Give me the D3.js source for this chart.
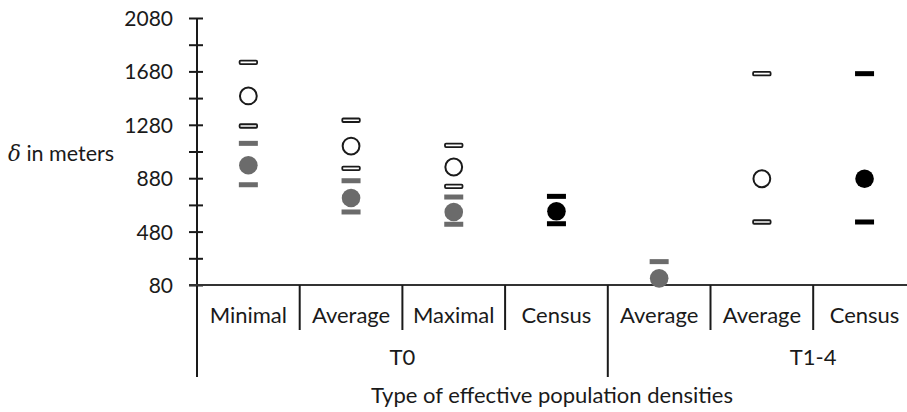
<!DOCTYPE html>
<html>
<head>
<meta charset="utf-8">
<script src="https://cdn.jsdelivr.net/npm/d3@7"></script>
<style>
  html, body { margin: 0; padding: 0; background: #fff; }
  svg { display: block; }
  text { font-family: Lato, "Open Sans", sans-serif; fill: #1a1a1a; }
</style>
</head>
<body>
<svg id="chart" width="907" height="412"></svg>
<script>
// ---- data ----
const categories = ["Minimal", "Average", "Maximal", "Census", "Average", "Average", "Census", ""];
const groups     = ["T0", "T0", "T0", "T0", "T1-4", "T1-4", "T1-4", "T1-4"];

// open markers (white circle, outlined bounds)
const openMean  = [1496, 1121, 964, null, null, 876, null, null];
const openUpper = [1748, 1314, 1126, null, null, 1663, null, null];
const openLower = [1271, 954, 819, null, null, 552, null, null];

// grey markers
const greyMean  = [977, 732, 627, null, 130, null, null, null];
const greyUpper = [1141, 861, 739, null, 255, null, null, null];
const greyLower = [831, 627, 535, null, null, null, null, null];

// census markers (black)
const censusMean  = [null, null, null, 632, null, null, 876, null];
const censusUpper = [null, null, null, 744, null, null, 1663, null];
const censusLower = [null, null, null, 539, null, null, 552, null];

const yTicks      = [80, 280, 480, 680, 880, 1080, 1280, 1480, 1680, 1880, 2080];
const yTickLabels = [80, 480, 880, 1280, 1680, 2080];

const yTitle = "in meters";
const xTitle = "Type of effective population densities";

(function () {
// ---- layout ----
const svg = d3.select("#chart");
const mLeft = 197, mBottom = 285, mTop = 18;
const bandW = 102.7;

const x = d3.scaleBand()
  .domain(d3.range(categories.length))
  .range([mLeft, mLeft + bandW * categories.length])
  .paddingInner(0).paddingOuter(0);

const y = d3.scaleLinear().domain([80, 2080]).range([mBottom, mTop]);

const ink = "#1a1a1a";
const grey = "#6b6b6b";

// ---- y axis ----
const yAxis = d3.axisLeft(y)
  .tickValues(yTicks)
  .tickSize(8)
  .tickFormat(d => yTickLabels.includes(d) ? d : "");
const yg = svg.append("g").attr("transform", `translate(${mLeft},0)`).call(yAxis);
yg.select(".domain").remove();
yg.selectAll(".tick line").attr("x1", 6).attr("x2", -8).attr("stroke", ink).attr("stroke-width", 2);
yg.selectAll(".tick text")
  .attr("x", -24).attr("dy", "0.36em")
  .style("font-size", "21px").style("font-family", "Lato, sans-serif").attr("fill", ink);
svg.append("line")
  .attr("x1", mLeft).attr("x2", mLeft).attr("y1", y(2080)).attr("y2", 377)
  .attr("stroke", ink).attr("stroke-width", 2);

// y title
const yt = svg.append("text").attr("x", 8).attr("y", 161).style("font-size", "21.5px");
yt.append("tspan").attr("font-style", "italic").style("font-family", "'DejaVu Serif', serif").text("δ");
yt.append("tspan").text(" " + yTitle);

// ---- x axis ----
svg.append("line")
  .attr("x1", 189).attr("x2", 907).attr("y1", mBottom).attr("y2", mBottom)
  .attr("stroke", "#333").attr("stroke-width", 2);

// separators
categories.forEach((c, i) => {
  if (i === 0) return;
  const isGroupEdge = groups[i] !== groups[i - 1];
  svg.append("line")
    .attr("x1", x(i)).attr("x2", x(i))
    .attr("y1", mBottom).attr("y2", isGroupEdge ? 377 : 330)
    .attr("stroke", ink).attr("stroke-width", 2);
});

// category labels
svg.append("g").selectAll("text").data(categories).join("text")
  .attr("x", (d, i) => x(i) + x.bandwidth() / 2)
  .attr("y", 323)
  .attr("text-anchor", "middle")
  .style("font-size", "22px")
  .text(d => d);

// group labels
const groupNames = Array.from(new Set(groups));
groupNames.forEach(g => {
  const idx = groups.map((d, i) => d === g ? i : -1).filter(i => i >= 0);
  const x0 = x(idx[0]), x1 = x(idx[idx.length - 1]) + x.bandwidth();
  svg.append("text")
    .attr("x", (x0 + x1) / 2).attr("y", 365)
    .attr("text-anchor", "middle")
    .style("font-size", "22px")
    .text(g);
});

// x title
svg.append("text")
  .attr("x", (mLeft + 907) / 2).attr("y", 403)
  .attr("text-anchor", "middle")
  .style("font-size", "22px")
  .text(xTitle);

// ---- markers ----
const marks = svg.append("g");
const cx = i => x(i) + x.bandwidth() / 2;

function dashes(vals, fill, stroke, sw) {
  vals.forEach((v, i) => {
    if (v == null) return;
    const w = stroke ? 17.5 : 19, h = stroke ? 3.5 : 5;
    marks.append("rect")
      .attr("x", cx(i) - w / 2).attr("y", y(v) - h / 2)
      .attr("width", w).attr("height", h)
      .attr("rx", stroke ? 1 : 0)
      .attr("fill", fill)
      .attr("stroke", stroke || "none")
      .attr("stroke-width", sw || 0);
  });
}
function dots(vals, fill, stroke, r) {
  vals.forEach((v, i) => {
    if (v == null) return;
    marks.append("circle")
      .attr("cx", cx(i)).attr("cy", y(v)).attr("r", r)
      .attr("fill", fill)
      .attr("stroke", stroke || "none")
      .attr("stroke-width", stroke ? 2 : 0);
  });
}

dashes(openUpper, "#fff", ink, 1.8);
dashes(openLower, "#fff", ink, 1.8);
dots(openMean, "#fff", ink, 8.4);

dashes(greyUpper, grey);
dashes(greyLower, grey);
dots(greyMean, grey, null, 9.3);

dashes(censusUpper, "#000");
dashes(censusLower, "#000");
dots(censusMean, "#000", null, 9.3);
})();
</script>
</body>
</html>
